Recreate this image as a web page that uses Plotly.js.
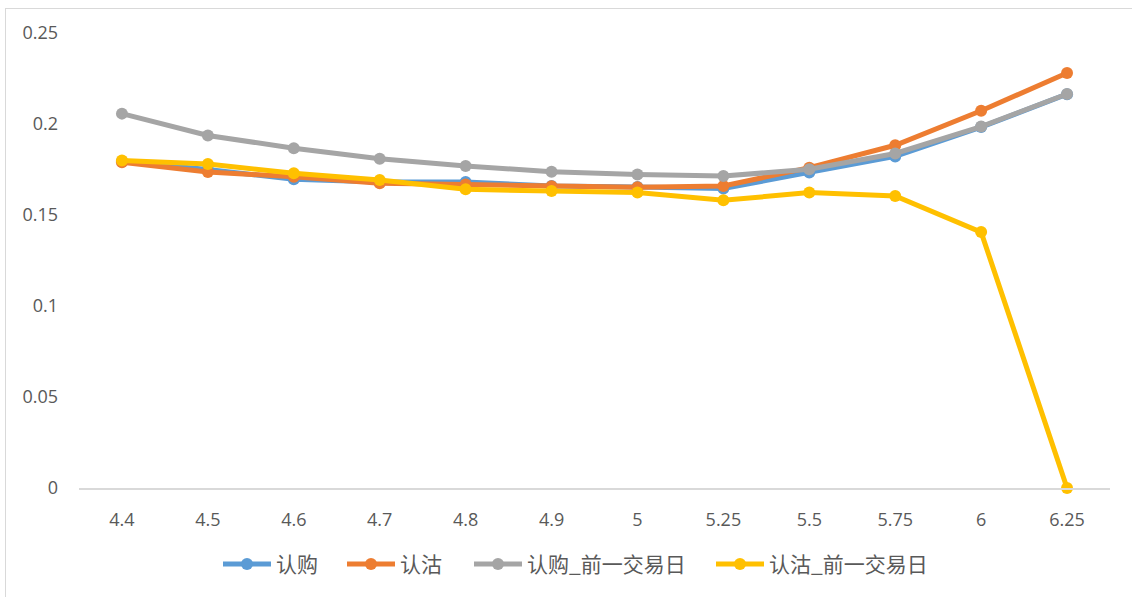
<!DOCTYPE html>
<html>
<head>
<meta charset="utf-8">
<script src="https://cdn.plot.ly/plotly-3.0.1.min.js"></script>
<style>
  html, body { margin: 0; padding: 0; background: #fff; overflow: hidden; }
  #wrap { position: relative; width: 1132px; height: 597px; overflow: hidden; }
  #chart { width: 1132px; height: 597px; }
  #frame { position: absolute; left: 5px; top: 8px; width: 1300px; height: 800px;
           border: 1px solid #d9d9d9; pointer-events: none; box-sizing: border-box; }
</style>
</head>
<body>
<div id="wrap">
  <div id="chart"></div>
  <div id="frame"></div>
</div>
<script>
const categories = ["4.4", "4.5", "4.6", "4.7", "4.8", "4.9", "5", "5.25", "5.5", "5.75", "6", "6.25"];
const callVals     = [0.1794, 0.1750, 0.1696, 0.1681, 0.1681, 0.1659, 0.1654, 0.1645, 0.1734, 0.1822, 0.1983, 0.2164];
const putVals      = [0.1790, 0.1736, 0.1710, 0.1674, 0.1668, 0.1658, 0.1652, 0.1659, 0.1760, 0.1883, 0.2073, 0.2280];
const callPrevVals = [0.2057, 0.1937, 0.1867, 0.1809, 0.1769, 0.1738, 0.1722, 0.1714, 0.1751, 0.1838, 0.1986, 0.2165];
const putPrevVals  = [0.1800, 0.1780, 0.1729, 0.1692, 0.1641, 0.1632, 0.1623, 0.1581, 0.1623, 0.1605, 0.1406, 0.0000];
const seriesNames  = ["认购", "认沽", "认购_前一交易日", "认沽_前一交易日"];
const seriesColors = ["#5B9BD5", "#ED7D31", "#A5A5A5", "#FFC000"];
const yTicks = [0, 0.05, 0.1, 0.15, 0.2, 0.25];
const yTickText = ["0", "0.05", "0.1", "0.15", "0.2", "0.25"];

const plotLeft = 79, plotWidth = 1031;
// legend entry left edges (pixels) for each series
const legendLeftPx = [218, 342, 469, 711];
const legendIds = ["legend", "legend2", "legend3", "legend4"];

const allVals = [callVals, putVals, callPrevVals, putPrevVals];
const traces = allVals.map((vals, i) => ({
  type: "scatter",
  mode: "lines+markers",
  x: categories,
  y: vals,
  name: seriesNames[i],
  legend: legendIds[i],
  line: { color: seriesColors[i], width: 5 },
  marker: { color: seriesColors[i], size: 12 },
  cliponaxis: false
}));

const tickFont = { family: "Open Sans, Liberation Sans, sans-serif", size: 18, color: "#595959" };
const legendFont = { family: "Noto Sans CJK SC, sans-serif", size: 21, color: "#595959" };

const layout = {
  width: 1132,
  height: 597,
  margin: { l: plotLeft, r: 1132 - plotLeft - plotWidth, t: 33, b: 107 },
  paper_bgcolor: "#ffffff",
  plot_bgcolor: "#ffffff",
  showlegend: true,
  xaxis: {
    type: "category",
    range: [-0.5, categories.length - 0.5],
    automargin: false,
    showgrid: false,
    zeroline: false,
    showline: true,
    linecolor: "#d9d9d9",
    linewidth: 1.5,
    ticks: "",
    tickfont: tickFont,
    ticklabelstandoff: 15
  },
  yaxis: {
    range: [0, 0.25],
    automargin: false,
    tickvals: yTicks,
    ticktext: yTickText,
    showgrid: false,
    zeroline: false,
    showline: false,
    ticks: "",
    tickfont: tickFont,
    ticklabelstandoff: 20
  }
};
legendIds.forEach((id, i) => {
  layout[id] = {
    orientation: "h",
    x: (legendLeftPx[i] - plotLeft) / plotWidth,
    xanchor: "left",
    y: -0.168,
    yanchor: "middle",
    font: legendFont,
    itemwidth: 48,
    bgcolor: "rgba(0,0,0,0)"
  };
});

Plotly.newPlot("chart", traces, layout, { displayModeBar: false, staticPlot: true });
</script>
</body>
</html>
